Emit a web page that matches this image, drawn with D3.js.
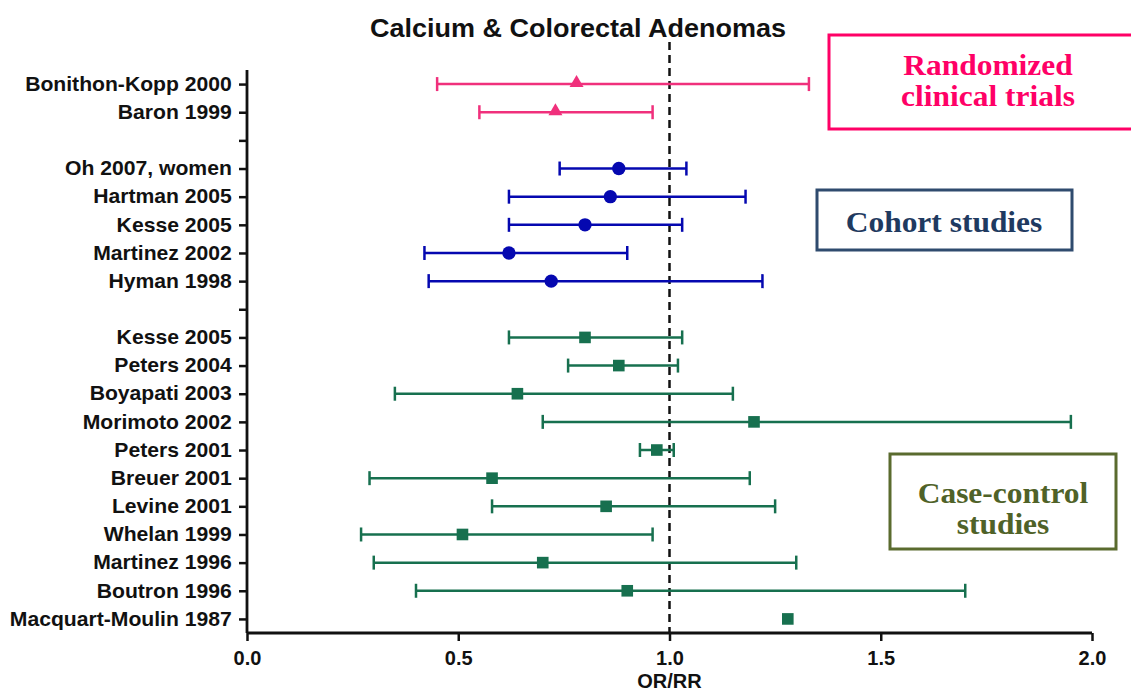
<!DOCTYPE html>
<html>
<head>
<meta charset="utf-8">
<script src="https://cdn.jsdelivr.net/npm/d3@7"></script>
<style>
  body { margin: 0; background: #fff; }
  svg { display: block; }
</style>
</head>
<body>
<div id="chart"></div>
<script>
// study labels, top to bottom ("" = spacer row)
var studies = ["Bonithon-Kopp 2000", "Baron 1999", "", "Oh 2007, women", "Hartman 2005",
  "Kesse 2005", "Martinez 2002", "Hyman 1998", "", "Kesse 2005", "Peters 2004",
  "Boyapati 2003", "Morimoto 2002", "Peters 2001", "Breuer 2001", "Levine 2001",
  "Whelan 1999", "Martinez 1996", "Boutron 1996", "Macquart-Moulin 1987"];
var design = ["rct", "rct", null, "cohort", "cohort", "cohort", "cohort", "cohort", null,
  "cc", "cc", "cc", "cc", "cc", "cc", "cc", "cc", "cc", "cc", "cc"];
var est = [0.78, 0.73, null, 0.88, 0.86, 0.80, 0.62, 0.72, null,
  0.80, 0.88, 0.64, 1.20, 0.97, 0.58, 0.85, 0.51, 0.70, 0.90, 1.28];
var lo = [0.45, 0.55, null, 0.74, 0.62, 0.62, 0.42, 0.43, null,
  0.62, 0.76, 0.35, 0.70, 0.93, 0.29, 0.58, 0.27, 0.30, 0.40, null];
var hi = [1.33, 0.96, null, 1.04, 1.18, 1.03, 0.90, 1.22, null,
  1.03, 1.02, 1.15, 1.95, 1.01, 1.19, 1.25, 0.96, 1.30, 1.70, null];
var xTicks = [0, 0.5, 1.0, 1.5, 2.0];

var colors = { rct: "#f0307c", cohort: "#0508b0", cc: "#17704f" };
var stretch = 1.085; // labels look a little wider than the font

var width = 1131, height = 694;
var svg = d3.select("#chart").append("svg")
  .attr("width", width).attr("height", height);

var x = d3.scaleLinear().domain([0, 2]).range([247, 1092]);
var y = d3.scalePoint().domain(d3.range(studies.length)).range([70, 633]).padding(0.5);

// title
svg.append("text")
  .attr("transform", "translate(578,37) scale(1.08,1)")
  .attr("text-anchor", "middle")
  .attr("font-family", "Liberation Sans, Arial, sans-serif")
  .attr("font-weight", "bold")
  .attr("font-size", 25)
  .attr("fill", "#111")
  .text("Calcium & Colorectal Adenomas");

// null line
svg.append("line")
  .attr("x1", x(1)).attr("x2", x(1))
  .attr("y1", 42).attr("y2", 633)
  .attr("stroke", "#111").attr("stroke-width", 2.5)
  .attr("stroke-dasharray", "8,5");

// axes
var leftAxis = d3.axisLeft(y).tickSize(8).tickPadding(6).tickFormat(function(i) { return studies[i]; });
var bottomAxis = d3.axisBottom(x).tickValues(xTicks).tickSize(8).tickPadding(10).tickFormat(d3.format(".1f"));

var gy = svg.append("g").attr("transform", "translate(" + x(0) + ",0)").call(leftAxis);
var gx = svg.append("g").attr("transform", "translate(0,633)").call(bottomAxis);

[gy, gx].forEach(function(g) {
  g.select(".domain").attr("stroke", "#111").attr("stroke-width", 2.8);
  g.selectAll(".tick line").attr("stroke", "#111").attr("stroke-width", 2.5);
  g.selectAll(".tick text")
    .attr("font-family", "Liberation Sans, Arial, sans-serif")
    .attr("font-weight", "bold")
    .attr("fill", "#111");
});
gy.select(".domain").attr("d", "M0,70V633");
gx.select(".domain").attr("d", "M247,0H1092");
gy.selectAll(".tick text").attr("font-size", 19.5)
  .attr("transform", "scale(" + stretch + ",1)");
gx.selectAll(".tick text").attr("font-size", 20);

svg.append("text")
  .attr("x", x(1)).attr("y", 688)
  .attr("text-anchor", "middle")
  .attr("font-family", "Liberation Sans, Arial, sans-serif")
  .attr("font-weight", "bold")
  .attr("font-size", 20)
  .attr("fill", "#111")
  .text("OR/RR");

// error bars
var rows = d3.range(studies.length).filter(function(i) { return est[i] != null; });
var withCI = rows.filter(function(i) { return lo[i] != null; });

var bars = svg.append("g").selectAll("g").data(withCI).enter().append("g")
  .attr("stroke", function(i) { return colors[design[i]]; })
  .attr("stroke-width", 2.5);
bars.append("line")
  .attr("x1", function(i) { return x(lo[i]); })
  .attr("x2", function(i) { return x(hi[i]); })
  .attr("y1", function(i) { return y(i); })
  .attr("y2", function(i) { return y(i); });
bars.append("line")
  .attr("x1", function(i) { return x(lo[i]); })
  .attr("x2", function(i) { return x(lo[i]); })
  .attr("y1", function(i) { return y(i) - 7; })
  .attr("y2", function(i) { return y(i) + 7; });
bars.append("line")
  .attr("x1", function(i) { return x(hi[i]); })
  .attr("x2", function(i) { return x(hi[i]); })
  .attr("y1", function(i) { return y(i) - 7; })
  .attr("y2", function(i) { return y(i) + 7; });

// markers
var shapes = { rct: d3.symbolTriangle, cohort: d3.symbolCircle, cc: d3.symbolSquare };
var sizes = { rct: 85, cohort: 140, cc: 135 };
svg.append("g").selectAll("path").data(rows).enter().append("path")
  .attr("transform", function(i) {
    return "translate(" + x(est[i]) + "," + (y(i) + (design[i] === "rct" ? -1 : 0)) + ")";
  })
  .attr("d", function(i) { return d3.symbol().type(shapes[design[i]]).size(sizes[design[i]])(); })
  .attr("fill", function(i) { return colors[design[i]]; });

// group label boxes
var boxes = [
  { x: 829, y: 35, w: 320, h: 94, stroke: "#ff0066", fill: "#ff0066", cx: 988, lines: ["Randomized", "clinical trials"], base: 75 },
  { x: 817, y: 190, w: 255, h: 60, stroke: "#2f4b6e", fill: "#1f3a60", cx: 944, lines: ["Cohort studies"], base: 232 },
  { x: 890, y: 454, w: 226, h: 95, stroke: "#5a6b2e", fill: "#4f6228", cx: 1003, lines: ["Case-control", "studies"], base: 503 }
];
boxes.forEach(function(b) {
  svg.append("rect")
    .attr("x", b.x).attr("y", b.y).attr("width", b.w).attr("height", b.h)
    .attr("fill", "none").attr("stroke", b.stroke).attr("stroke-width", 3);
  b.lines.forEach(function(t, k) {
    svg.append("text")
      .attr("transform", "translate(" + b.cx + "," + (b.base + k * 31) + ") scale(" + stretch + ",1)")
      .attr("text-anchor", "middle")
      .attr("font-family", "Liberation Serif, Times New Roman, serif")
      .attr("font-weight", "bold")
      .attr("font-size", 29)
      .attr("fill", b.fill)
      .text(t);
  });
});
</script>
</body>
</html>
